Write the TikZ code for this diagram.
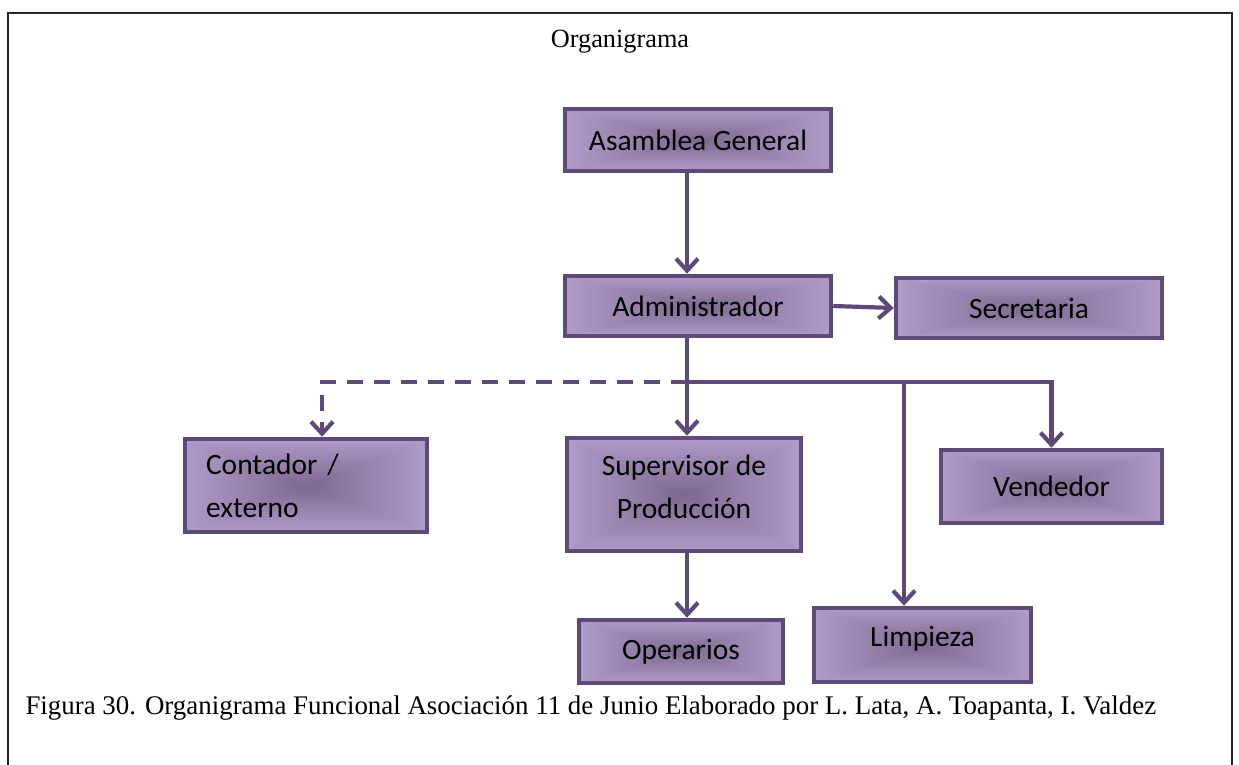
\documentclass[tikz,border=0pt]{standalone}
\usepackage{fontspec}
\setmainfont{Liberation Serif}
\newfontfamily\boxfont{Carlito}
\usetikzlibrary{arrows.meta}

% purple gradient that is darkest in the middle and lightens towards every edge
\pgfdeclarefunctionalshading{boxgrad}{\pgfpoint{-50bp}{-50bp}}{\pgfpoint{50bp}{50bp}}{}{
  abs exch abs 2 copy lt {exch} if pop 25 div dup 1 gt {pop 1} if
  dup 0.20 mul 0.49 add
  exch dup 0.20 mul 0.41 add
  exch 0.23 mul 0.56 add
}

\definecolor{orgline}{HTML}{5F497A}

\tikzset{
  orgbox/.style={draw=orgline, line width=4.5pt, shading=boxgrad, inner sep=0pt,
    font=\boxfont\fontsize{29.5}{43}\selectfont, text=black, align=center},
  link/.style={draw=orgline, line width=4.2pt,
    -{Straight Barb[length=12pt,width=22pt]}},
  dotlink/.style={link, dash pattern=on 16pt off 11pt},
}

\begin{document}
\begin{tikzpicture}[x=1pt,y=-1pt]
  \useasboundingbox (0,0) rectangle (1239,765);
  % open frame around the figure
  \draw[line width=1.6pt, black!85] (8,766) -- (8,13) -- (1232,13) -- (1232,766);

  \node[font=\fontsize{26.3}{30}\selectfont] (title) at (620,42) {Organigrama};

  \node[orgbox, minimum width=266pt, minimum height=62pt] (asam) at (698,140) {Asamblea General};
  \node[orgbox, minimum width=266pt, minimum height=60pt] (adm) at (698,306) {Administrador};
  \node[orgbox, minimum width=266pt, minimum height=60pt] (sec) at (1029,308) {Secretaria};
  \node[orgbox, minimum width=240pt, minimum height=93pt, text width=200pt, align=left,
        inner xsep=21pt] (cont) at (306,485.5) {Contador /\\externo};
  \node[orgbox, minimum width=234pt, minimum height=113pt, text depth=15pt] (sup) at (684,494.5) {Supervisor de\\Producción};
  \node[orgbox, minimum width=221pt, minimum height=73pt] (vend) at (1051.5,486.5) {Vendedor};
  \node[orgbox, minimum width=204pt, minimum height=63pt] (oper) at (681,651.5) {Operarios};
  \node[orgbox, minimum width=217pt, minimum height=74pt, text depth=18pt] (limp) at (922.5,645) {Limpieza};

  \node[anchor=base west, font=\fontsize{26.9}{30}\selectfont] (cap) at (22,714)
    {Figura 30. Organigrama Funcional Asociación 11 de Junio Elaborado por L. Lata, A. Toapanta, I. Valdez};

  % branch points on the distribution line
  \coordinate (top) at (687,0);
  \coordinate (bus) at (687,382);
  \coordinate (jl) at (904,382);
  \coordinate (jc) at (322,382);

  \draw[link] (asam.south -| top) -- (adm.north -| top);
  \draw[link] (adm.east) -- (sec.west);
  \draw[link] (adm.south -| top) -- (sup.north -| top);
  \draw[link] (bus) -| (vend.north);
  \draw[link] (jl) -- (limp.north -| jl);
  \draw[dotlink] (bus) -- (jc) -- (cont.north -| jc);
  \draw[link] (sup.south -| top) -- (oper.north -| top);
\end{tikzpicture}
\end{document}
